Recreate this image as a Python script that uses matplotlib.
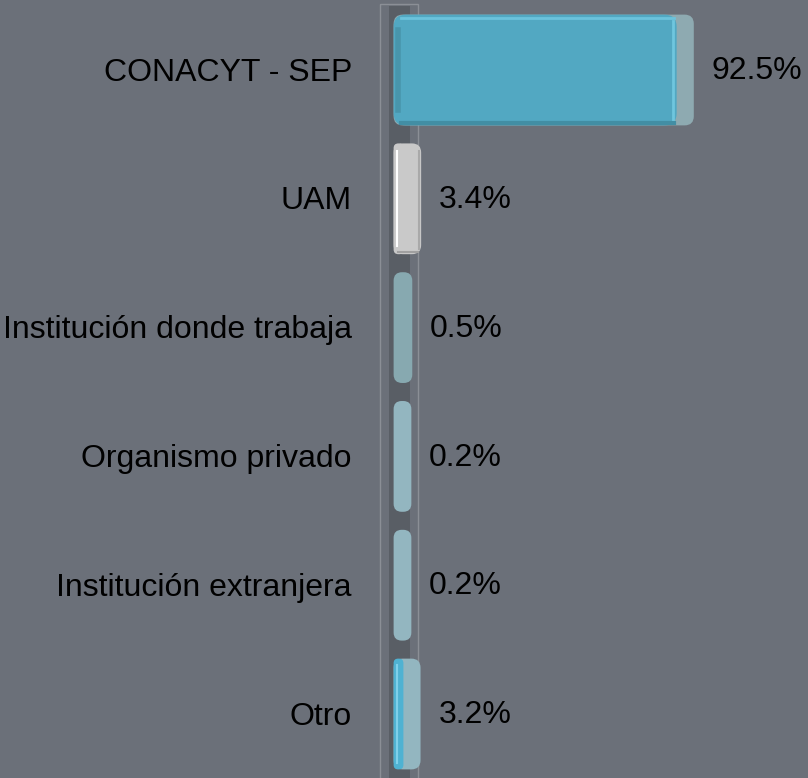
import matplotlib.pyplot as plt
from matplotlib.patches import FancyBboxPatch, Rectangle

categories = ['CONACYT - SEP', 'UAM', 'Institución donde trabaja',
              'Organismo privado', 'Institución extranjera', 'Otro']
values = [92.5, 3.4, 0.5, 0.2, 0.2, 3.2]
value_labels = ['92.5%', '3.4%', '0.5%', '0.2%', '0.2%', '3.2%']
front_colors = ['#52a8c2', '#c9c9c9', '#87a9b0', '#93b6c0', '#93b6c0', '#4fb2d2']
side_colors = ['#8eaab1', '#c9c9c9', '#87a9b0', '#93b6c0', '#93b6c0', '#93b6c0']

bg = '#6b7079'
depth = 5.6          # 3-D depth of the bars, in data units
px_x = 3.06          # pixels per data unit along x
px_y = 128.8         # pixels per row

fig = plt.figure(figsize=(8.08, 7.78), dpi=100)
fig.patch.set_facecolor(bg)
ax = fig.add_axes([0, 0, 1, 1])
ax.set_facecolor(bg)
ax.set_xlim(-393 / px_x, (808 - 393) / px_x)
ax.set_ylim((778 - 70) / px_y, -70 / px_y)
ax.axis('off')

# floor / axis wall strip
ax.add_patch(Rectangle((-1.3, -0.50), 6.9, 6.1, facecolor='#595e65',
                       edgecolor='none', zorder=1))
ax.add_patch(Rectangle((-4.2, -0.51), 12.4, 6.1, facecolor='none',
                       edgecolor='#8b8f96', lw=1.0, zorder=1))

y = list(range(len(categories)))
h = 0.86
aspect = px_x / px_y
left = 0.2

# whole bar including its depth, then the front face over it
backs = ax.barh(y, [v + depth for v in values], left=left, height=h,
                color=side_colors, zorder=2)
fronts = ax.barh(y, values, left=left, height=h, color=front_colors, zorder=3)

for bars, rs in ((backs, 3.0), (fronts, 4.0)):
    for p in bars:
        x0, y0, w, hh = p.get_x(), p.get_y(), p.get_width(), p.get_height()
        if w < 3:
            p.set_visible(False)
            continue
        r = min(rs, w / 2.2)
        fb = FancyBboxPatch((x0, y0), w, hh,
                            boxstyle=f'round,pad=0,rounding_size={r}',
                            mutation_aspect=aspect,
                            facecolor=p.get_facecolor(), edgecolor='none',
                            zorder=p.get_zorder())
        p.set_visible(False)
        ax.add_patch(fb)

# highlight / shadow lines
for i, v in enumerate(values):
    yt, yb = i - h / 2, i + h / 2
    if v > 20:
        ax.plot([2.5, v - 0.8], [yt + 0.03, yt + 0.03], color='#6cc3dc', lw=2, zorder=4)
        ax.plot([2.5, v - 0.8], [yb - 0.02, yb - 0.02], color='#428ea4', lw=3, zorder=4)
        ax.plot([v - 1.0, v - 1.0], [yt + 0.05, yb - 0.05], color='#6fc6de', lw=2, zorder=4)
        ax.plot([1.6, 1.6], [yt + 0.12, yb - 0.12], color='#4895ab', lw=4, zorder=4)
    elif front_colors[i] != side_colors[i] and v > 1:
        ax.plot([1.2, 1.2], [yt + 0.05, yb - 0.05], color='#7fd0ea', lw=1.5, zorder=4)
    elif v > 1:
        ax.plot([1.2, 1.2], [yt + 0.06, yb - 0.06], color='white', lw=1.5, zorder=4)
        ax.plot([v + depth - 0.6, v + depth - 0.6], [yt + 0.06, yb - 0.04],
                color='#a9a9a9', lw=1.5, zorder=4)
        ax.plot([1.5, v + depth - 0.8], [yb - 0.015, yb - 0.015],
                color='#a0a0a0', lw=1.5, zorder=4)

for i, (cat, v, lab) in enumerate(zip(categories, values, value_labels)):
    ax.text(-13.4, i + 0.02, cat, ha='right', va='center', fontsize=23,
            family='Liberation Sans', color='black', zorder=5)
    ax.text(v + 11.6, i + 0.01, lab, ha='left', va='center', fontsize=23,
            family='Liberation Sans', color='black', zorder=5)

fig.savefig('out.png', dpi=100, facecolor=bg)
